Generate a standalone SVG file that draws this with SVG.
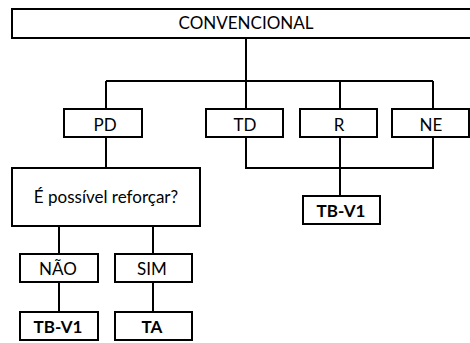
<svg xmlns="http://www.w3.org/2000/svg" width="470" height="343" viewBox="0 0 470 343">
<style>
.b{fill:#fff;stroke:#000;stroke-width:2}
.c{fill:none;stroke:#000;stroke-width:2}
text{font-family:Lato,"Liberation Sans",sans-serif;font-size:17px;fill:#000;text-anchor:middle}
.bd{font-weight:bold}
</style>
<rect width="470" height="343" fill="#fff"/>
<g id="connectors">
<path class="c" d="M246 38V81M106 81H433M106 81V109M246 81V109M340 81V109M433 81V109"/>
<path class="c" d="M246 137V168H433V137M340 137V196"/>
<path class="c" d="M106 137V168"/>
<path class="c" d="M59 226V254M153 226V254M59 282V312M153 282V312"/>
</g>
<g id="convencional"><rect class="b" x="12" y="9" width="470" height="29"/><text x="246" y="29">CONVENCIONAL</text></g>
<g id="pd"><rect class="b" x="64" y="109" width="78" height="28"/><text x="105" y="131">PD</text></g>
<g id="td"><rect class="b" x="206" y="109" width="77" height="28"/><text x="245" y="131">TD</text></g>
<g id="r"><rect class="b" x="300" y="109" width="77" height="28"/><text x="339" y="131">R</text></g>
<g id="ne"><rect class="b" x="392" y="109" width="77" height="28"/><text x="431" y="131">NE</text></g>
<g id="tbv1-right"><rect class="b" x="303" y="196" width="77" height="28"/><text class="bd" x="341" y="217">TB-V1</text></g>
<g id="pergunta"><rect class="b" x="12" y="168" width="188" height="58"/><text x="106" y="203">É possível reforçar?</text></g>
<g id="nao"><rect class="b" x="20" y="254" width="78" height="28"/><text x="58" y="275">NÃO</text></g>
<g id="sim"><rect class="b" x="115" y="254" width="77" height="28"/><text x="152" y="275">SIM</text></g>
<g id="tbv1-left"><rect class="b" x="20" y="312" width="78" height="28"/><text class="bd" x="58" y="333">TB-V1</text></g>
<g id="ta"><rect class="b" x="115" y="312" width="77" height="28"/><text class="bd" x="152" y="333">TA</text></g>
</svg>
